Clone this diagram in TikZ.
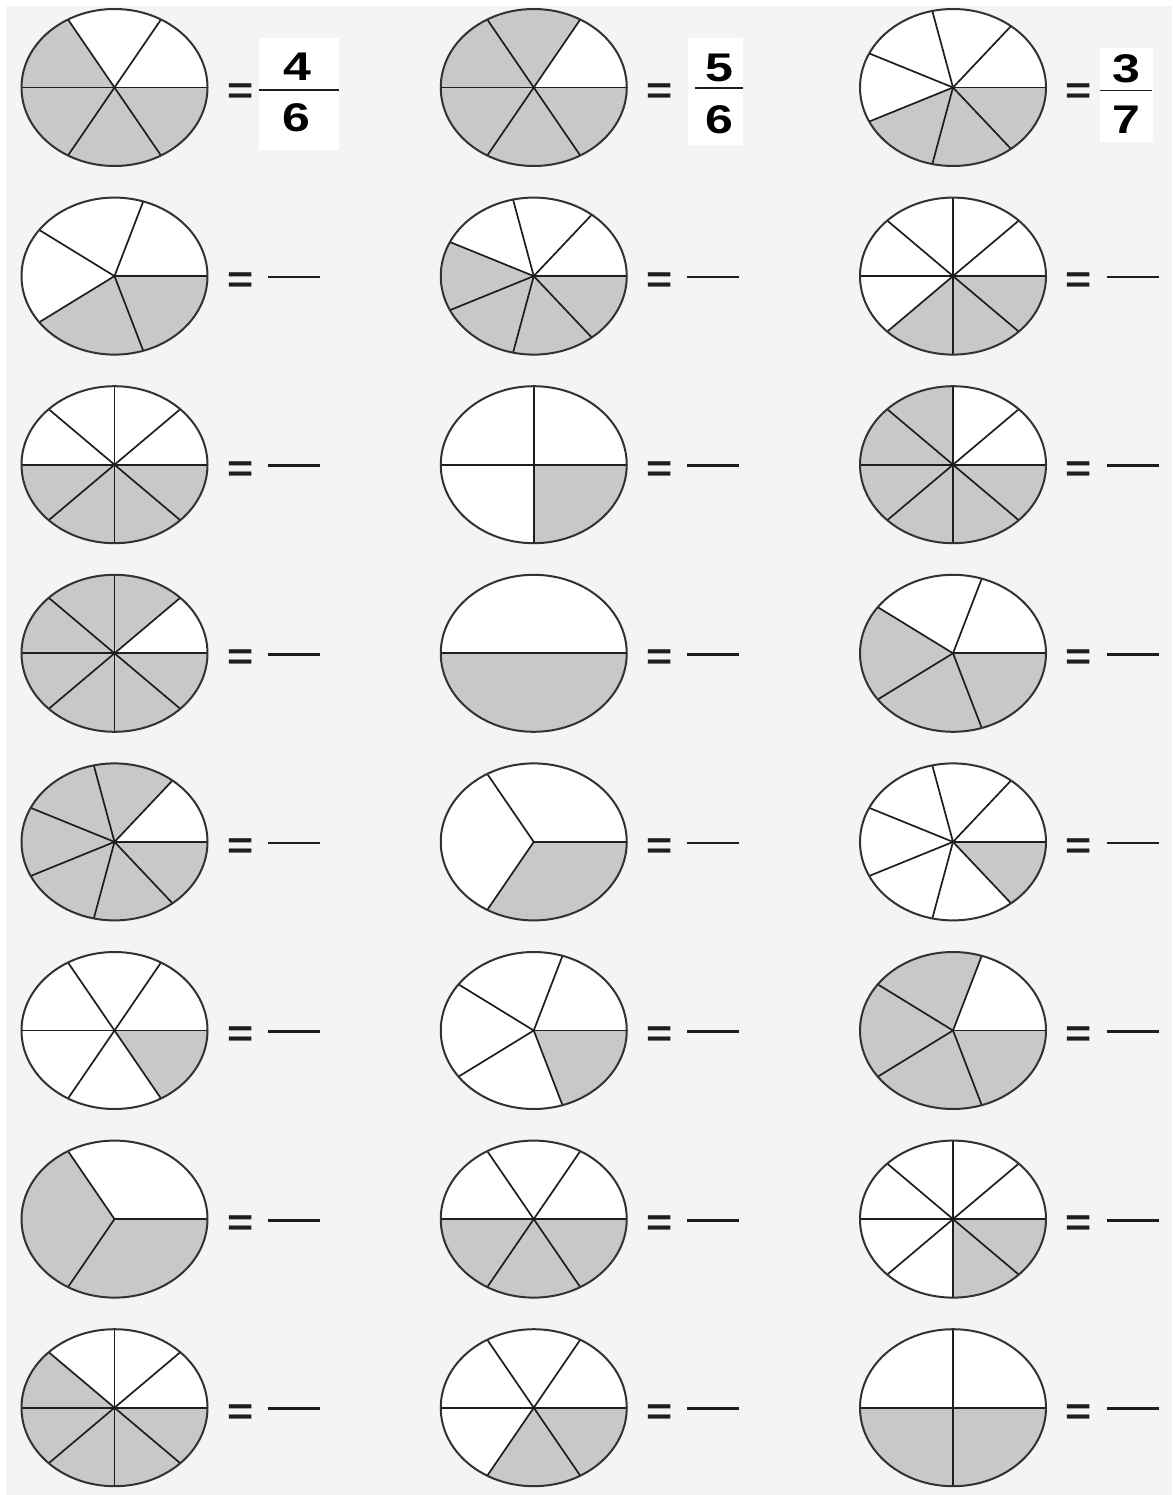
\documentclass[tikz,border=0pt]{standalone}
\usepackage{fontspec}
\setmainfont{Liberation Sans}
\usepackage{graphicx}
\usepackage{tikz}
\usetikzlibrary{positioning}
\definecolor{sheetcolor}{RGB}{244, 244, 244}
\definecolor{shadecolor}{RGB}{200, 200, 200}
\definecolor{rimcolor}{RGB}{50, 50, 50}
\definecolor{spokecolor}{RGB}{30, 30, 30}
\tikzset{
piebody/.style={
  fill=white
},
pieshade/.style={
  fill=shadecolor
},
pierim/.style={
  draw=rimcolor,
  line width=2pt
},
spoke/.style={
  draw=spokecolor,
  line width=1.7pt
},
eqsign/.style={
  font=\fontsize{38}{38}\selectfont\bfseries,
  text=spokecolor,
  inner sep=0pt
},
blankline/.style={
  draw=spokecolor,
  line width=2.8pt
},
fracbox/.style={
  fill=white,
  inner sep=0pt
},
fracdigit/.style={
  font=\fontsize{40}{40}\selectfont\bfseries,
  text=black,
  inner sep=0pt
},
fracbar/.style={
  draw=spokecolor,
  line width=1.8pt
}
}

\begin{document}
\begin{tikzpicture}[x=1pt,y=1pt]
  \useasboundingbox (0,0) rectangle (1172,-1495);
  \fill[white] (0,0) rectangle (1172,-1495);
  \fill[sheetcolor] (6,-6) rectangle (1172,-1495);

  % column/row/parts/shaded parts (shaded clockwise from the right)
  \foreach \col/\row/\parts/\shaded in {
      1/1/6/4, 2/1/6/5, 3/1/7/3,
      1/2/5/2, 2/2/7/4, 3/2/8/3,
      1/3/8/4, 2/3/4/1, 3/3/8/6,
      1/4/8/7, 2/4/2/1, 3/4/5/3,
      1/5/7/6, 2/5/3/1, 3/5/7/1,
      1/6/6/1, 2/6/5/1, 3/6/5/4,
      1/7/3/2, 2/7/6/3, 3/7/8/2,
      1/8/8/5, 2/8/6/2, 3/8/4/2}{
    \pgfmathsetmacro{\px}{114.5+419.25*(\col-1)}
    \pgfmathsetmacro{\py}{-87.5-188.6*(\row-1)}
    \pgfmathsetmacro{\sweep}{-360*\shaded/\parts}
    \coordinate (pie\col\row) at (\px,\py);
    \fill[piebody] (pie\col\row) ellipse [x radius=93pt, y radius=78.5pt];
    \fill[pieshade] (pie\col\row) -- +(0:93pt and 78.5pt)
      arc [start angle=0, end angle=\sweep, x radius=93pt, y radius=78.5pt] -- cycle;
    \foreach \i in {1,...,\parts}
      \draw[spoke] (pie\col\row) -- +(360*\i/\parts:93pt and 78.5pt);
    \draw[pierim] (pie\col\row) ellipse [x radius=93pt, y radius=78.5pt];
    \node[eqsign] (eq\col\row) at ([xshift=126pt,yshift=-6.5pt]pie\col\row) {\scalebox{1.18}[1]{=}};
  }

  % blanks to fill in
  \foreach \col in {1,2,3}
    \foreach \row in {2,...,8}
      \draw[blankline] ([xshift=153.5pt,yshift=-1pt]pie\col\row) -- ++(52pt,0);

  % worked answers in the first row
  \node[fracbox, minimum width=80pt, minimum height=112pt] (box1) at (299,-94) {};
  \node[fracdigit] (num1) at (297,-67) {\scalebox{1.25}[1]{4}};
  \node[fracdigit] (den1) at (296,-118) {\scalebox{1.25}[1]{6}};
  \coordinate (bar1l) at (259,-90);
  \coordinate (bar1r) at (339,-90);
  \draw[fracbar] (bar1l) -- (bar1r);

  \node[fracbox, minimum width=55pt, minimum height=107pt] (box2) at (715.5,-91.5) {};
  \node[fracdigit] (num2) at (719.5,-68) {\scalebox{1.25}[1]{5}};
  \node[fracdigit] (den2) at (719.5,-120) {\scalebox{1.25}[1]{6}};
  \coordinate (bar2l) at (695,-88);
  \coordinate (bar2r) at (743,-88);
  \draw[fracbar] (bar2l) -- (bar2r);

  \node[fracbox, minimum width=53pt, minimum height=94pt] (box3) at (1126.5,-95) {};
  \node[fracdigit] (num3) at (1126,-69) {\scalebox{1.25}[1]{3}};
  \node[fracdigit] (den3) at (1126,-120) {\scalebox{1.25}[1]{7}};
  \coordinate (bar3l) at (1100,-90.5);
  \coordinate (bar3r) at (1152,-90.5);
  \draw[fracbar] (bar3l) -- (bar3r);
\end{tikzpicture}
\end{document}
